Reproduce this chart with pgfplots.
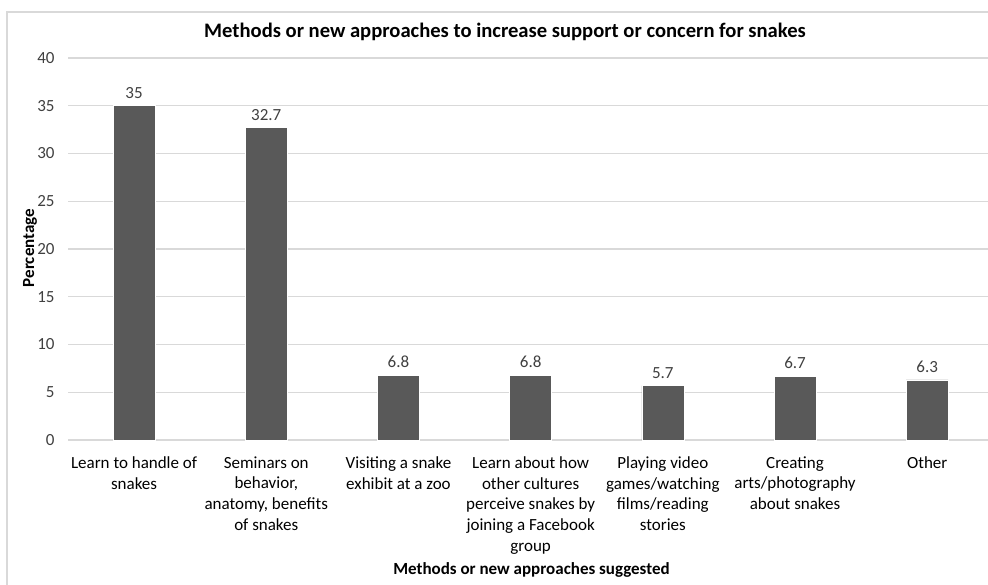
\documentclass[border=0pt]{standalone}
\usepackage{fontspec}
\setmainfont{Carlito}
\usepackage{pgfplots}
\pgfplotsset{compat=1.18}
\definecolor{barfill}{HTML}{595959}
\definecolor{gridc}{HTML}{D9D9D9}
\definecolor{txt}{HTML}{404040}

\begin{document}
\begin{tikzpicture}
  \useasboundingbox (0,0) rectangle (494pt,292pt);
  % chart area frame (cut off at right and bottom)
  \draw[gridc, line width=0.6pt] (3.5pt,-2pt) -- (3.5pt,286pt) -- (496pt,286pt);
  \begin{axis}[
      at={(34pt,72pt)}, anchor=south west,
      scale only axis,
      width=460pt, height=191pt,
      ybar, bar width=21pt,
      xmin=-0.5, xmax=6.46,
      ymin=0, ymax=40, ytick distance=5,
      xtick=data,
      xticklabels={
        {Learn to handle of\\snakes},
        {Seminars on\\behavior,\\anatomy, benefits\\of snakes},
        {Visiting a snake\\exhibit at a zoo},
        {Learn about how\\other cultures\\perceive snakes by\\joining a Facebook\\group},
        {Playing video\\games/watching\\films/reading\\stories},
        {Creating\\arts/photography\\about snakes},
        {Other}},
      axis line style={draw=none},
      major tick length=0pt,
      ymajorgrids, grid style={gridc, line width=0.6pt},
      /pgf/number format/assume math mode=true,
      yticklabel style={font=\fontsize{8.5}{10}\selectfont, text=txt, anchor=east, inner sep=0pt, xshift=-6.5pt},
      xticklabel style={font=\fontsize{8.5}{10.4}\selectfont, text=black, anchor=north, align=center, inner sep=0pt, yshift=-8pt},
      nodes near coords,
      nodes near coords style={font=\fontsize{8.5}{10}\selectfont, text=txt, anchor=south, inner sep=0pt, yshift=3.5pt},
      point meta=explicit symbolic,
      clip=false,
    ]
    \addplot[fill=barfill, draw=white, line width=0.3pt]
      coordinates {(0,35)[35] (1,32.7)[32.7] (2,6.8)[6.8] (3,6.8)[6.8] (4,5.7)[5.7] (5,6.7)[6.7] (6,6.3)[6.3]};
  \end{axis}
  \node[font=\fontsize{10.3}{12}\selectfont\bfseries] at (252.5pt,276pt) {Methods or new approaches to increase support or concern for snakes};
  \node[font=\fontsize{8.5}{10}\selectfont\bfseries, rotate=90] at (15pt,168pt) {Percentage};
  \node[font=\fontsize{8.5}{10}\selectfont\bfseries] at (265.75pt,7pt) {Methods or new approaches suggested};
\end{tikzpicture}
\end{document}
